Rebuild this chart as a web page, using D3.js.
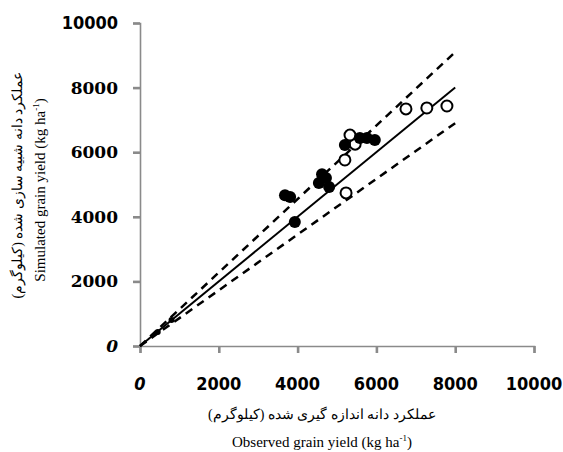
<!DOCTYPE html>
<html>
<head>
<meta charset="utf-8">
<script src="https://cdn.jsdelivr.net/npm/d3@7"></script>
<style>
  body { margin: 0; background: white; }
  .serif { font-family: 'Liberation Serif', 'Times New Roman', Times, serif; }
  .tickx { font-family: 'DejaVu Sans Condensed', 'DejaVu Sans', sans-serif; font-weight: bold; font-size: 18px; }
  .ticky { font-family: 'DejaVu Serif', serif; font-weight: bold; font-size: 17px; }
</style>
</head>
<body>
<div id="chart"></div>
<script>
// observed vs simulated yield (kg/ha)
const filledObs = [450, 800, 3930, 3680, 3810, 4540, 4620, 4720, 4800, 5200, 5580, 5760, 5960]
const filledSim = [430, 805, 3840, 4670, 4610, 5050, 5320, 5200, 4920, 6220, 6440, 6440, 6380]
const openObs = [5230, 5200, 5460, 5330, 6750, 7280, 7790]
const openSim = [4740, 5760, 6250, 6530, 7340, 7370, 7430]

// 1:1 line and the upper / lower bands
const lineX = [0, 8000]
const oneToOne = [0, 8000]
const upperBand = [0, 9100]
const lowerBand = [0, 6900]

const ticks = [0, 2000, 4000, 6000, 8000, 10000]

const width = 563
const height = 452
const margin = { top: 23, right: 29, bottom: 106, left: 140 }

const svg = d3.select('#chart')
    .append('svg')
    .attr('width', width)
    .attr('height', height)

const x = d3.scaleLinear().domain([0, 10000]).range([margin.left, width - margin.right])
const y = d3.scaleLinear().domain([0, 10000]).range([height - margin.bottom, margin.top])

const axisColor = '#8a8a8a'

// x axis
const gx = svg.append('g')
    .attr('transform', `translate(0,${y(0)})`)
    .call(d3.axisBottom(x).tickValues(ticks).tickSize(7).tickFormat(''))
gx.select('.domain').attr('stroke', axisColor).attr('stroke-width', 1.6)
gx.selectAll('.tick line').attr('stroke', axisColor).attr('stroke-width', 2.6)

// y axis
const gy = svg.append('g')
    .attr('transform', `translate(${x(0)},0)`)
    .call(d3.axisLeft(y).tickValues(ticks).tickSize(7).tickFormat(''))
gy.select('.domain').attr('stroke', axisColor).attr('stroke-width', 1.6)
gy.selectAll('.tick line').attr('stroke', axisColor).attr('stroke-width', 2.6)

// tick labels
svg.append('g').selectAll('text')
    .data(ticks)
    .enter()
    .append('text')
    .attr('class', 'tickx')
    .attr('x', d => x(d))
    .attr('y', y(0) + 44)
    .attr('text-anchor', 'middle')
    .style('font-style', d => d === 0 ? 'italic' : 'normal')
    .text(d => d)

svg.append('g').selectAll('text')
    .data(ticks)
    .enter()
    .append('text')
    .attr('class', d => d === 10000 ? 'tickx' : 'ticky')
    .attr('x', x(0) - 22)
    .attr('y', d => y(d))
    .attr('dy', '0.35em')
    .attr('text-anchor', 'end')
    .style('font-style', d => d === 0 ? 'italic' : 'normal')
    .text(d => d)

// reference lines
const lineGen = d3.line().x(d => x(d[0])).y(d => y(d[1]))

svg.append('path')
    .attr('d', lineGen(d3.zip(lineX, upperBand)))
    .attr('fill', 'none')
    .attr('stroke', 'black')
    .attr('stroke-width', 2.5)
    .attr('stroke-dasharray', '8,6')

svg.append('path')
    .attr('d', lineGen(d3.zip(lineX, lowerBand)))
    .attr('fill', 'none')
    .attr('stroke', 'black')
    .attr('stroke-width', 2.5)
    .attr('stroke-dasharray', '8,6')

svg.append('path')
    .attr('d', lineGen(d3.zip(lineX, oneToOne)))
    .attr('fill', 'none')
    .attr('stroke', 'black')
    .attr('stroke-width', 2)

// points
svg.append('g').selectAll('circle')
    .data(d3.zip(openObs, openSim))
    .enter()
    .append('circle')
    .attr('cx', d => x(d[0]))
    .attr('cy', d => y(d[1]))
    .attr('r', 5.5)
    .attr('fill', 'white')
    .attr('stroke', 'black')
    .attr('stroke-width', 2)

svg.append('g').selectAll('circle')
    .data(d3.zip(filledObs, filledSim))
    .enter()
    .append('circle')
    .attr('cx', d => x(d[0]))
    .attr('cy', d => y(d[1]))
    .attr('r', d => d[0] < 1000 ? 3 : 6)
    .attr('fill', 'black')

// axis titles
svg.append('text')
    .attr('class', 'serif')
    .attr('x', 322)
    .attr('y', 419)
    .attr('text-anchor', 'middle')
    .style('font-size', '14px')
    .text('عملکرد دانه اندازه گیری شده (کیلوگرم)')

const xt = svg.append('text')
    .attr('class', 'serif')
    .attr('x', 322)
    .attr('y', 447)
    .attr('text-anchor', 'middle')
    .style('font-size', '15px')
xt.append('tspan').text('Observed grain yield (kg ha')
xt.append('tspan').attr('dy', -6).style('font-size', '9px').text('-1')
xt.append('tspan').attr('dy', 6).text(')')

svg.append('text')
    .attr('class', 'serif')
    .attr('transform', 'translate(22,185) rotate(-90)')
    .attr('text-anchor', 'middle')
    .style('font-size', '14px')
    .text('عملکرد دانه شبیه سازی شده (کیلوگرم)')

const yt = svg.append('text')
    .attr('class', 'serif')
    .attr('transform', 'translate(45,190) rotate(-90)')
    .attr('text-anchor', 'middle')
    .style('font-size', '15px')
yt.append('tspan').text('Simulated grain yield (kg ha')
yt.append('tspan').attr('dy', -6).style('font-size', '9px').text('-1')
yt.append('tspan').attr('dy', 6).text(')')
</script>
</body>
</html>
